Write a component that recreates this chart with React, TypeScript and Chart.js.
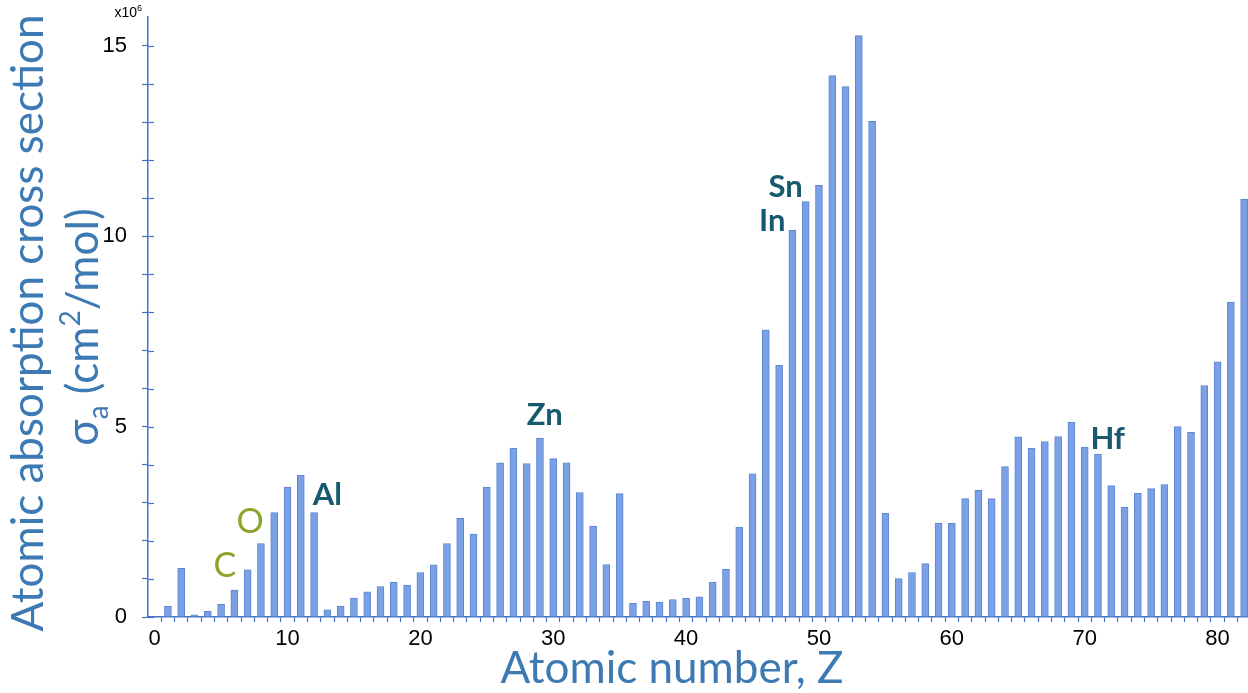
import React, { useEffect, useRef } from 'react';
import { Chart, registerables } from 'chart.js';

Chart.register(...registerables);

// ---- data ----
const atomicNumbers = [
  1, 2, 3, 4, 5, 6, 7, 8, 9, 10, 11, 12, 13, 14, 15, 16, 17, 18, 19, 20,
  21, 22, 23, 24, 25, 26, 27, 28, 29, 30, 31, 32, 33, 34, 35, 36, 37, 38, 39, 40,
  41, 42, 43, 44, 45, 46, 47, 48, 49, 50, 51, 52, 53, 54, 55, 56, 57, 58, 59, 60,
  61, 62, 63, 64, 65, 66, 67, 68, 69, 70, 71, 72, 73, 74, 75, 76, 77, 78, 79, 80,
  81, 82,
];

// atomic absorption cross section, units of 10^6 cm^2/mol
const crossSection = [
  0.29, 1.28, 0.06, 0.15, 0.34, 0.71, 1.24, 1.93, 2.74, 3.41,
  3.72, 2.74, 0.19, 0.29, 0.5, 0.66, 0.8, 0.91, 0.84, 1.17,
  1.37, 1.93, 2.59, 2.18, 3.41, 4.05, 4.44, 4.03, 4.7, 4.16,
  4.05, 3.27, 2.39, 1.38, 3.24, 0.36, 0.41, 0.39, 0.46, 0.49,
  0.53, 0.92, 1.25, 2.36, 3.76, 7.54, 6.61, 10.16, 10.91, 11.34,
  14.22, 13.93, 15.27, 13.02, 2.72, 1.01, 1.17, 1.4, 2.46, 2.46,
  3.11, 3.33, 3.11, 3.95, 4.73, 4.44, 4.61, 4.74, 5.12, 4.46,
  4.28, 3.45, 2.89, 3.25, 3.37, 3.48, 5.0, 4.85, 6.08, 6.7,
  8.27, 10.97,
];

const xTickLabels = [0, 10, 20, 30, 40, 50, 60, 70, 80];
const yTickLabels = [0, 5, 10, 15];
const yMinorTicks = [0, 1, 2, 3, 4, 5, 6, 7, 8, 9, 10, 11, 12, 13, 14, 15];

const elementNames = ['C', 'O', 'Al', 'Zn', 'In', 'Sn', 'Hf'];

// ---- styles / placement ----
const AXIS = '#4472C4';
const TITLE = '#3D7AB3';
const GREEN = '#8CA42C';
const TEAL = '#17596F';

const annotationPlacement: Record<string, { x: number; y: number; color: string; weight: string; size: number }> = {
  C: { x: 5.28, y: 1.05, color: GREEN, weight: '400', size: 34 },
  O: { x: 7.19, y: 2.21, color: GREEN, weight: '400', size: 34 },
  Al: { x: 12.99, y: 2.94, color: TEAL, weight: '700', size: 31 },
  Zn: { x: 29.36, y: 5.04, color: TEAL, weight: '700', size: 31 },
  In: { x: 46.48, y: 10.14, color: TEAL, weight: '700', size: 31 },
  Sn: { x: 47.49, y: 11.03, color: TEAL, weight: '700', size: 31 },
  Hf: { x: 71.73, y: 4.41, color: TEAL, weight: '700', size: 31 },
};

const decorPlugin = {
  id: 'decor',
  afterDraw(chart: any) {
    const ctx = chart.ctx as CanvasRenderingContext2D;
    const xs = chart.scales.x;
    const ys = chart.scales.y;
    const axisX = chart.chartArea.left;

    ctx.save();
    // inner halves of the y tick marks (ticks cross the axis)
    ctx.strokeStyle = AXIS;
    ctx.lineWidth = 1.2;
    yMinorTicks.forEach((v) => {
      const py = Math.round(ys.getPixelForValue(v)) + 0.5;
      ctx.beginPath();
      ctx.moveTo(axisX, py);
      ctx.lineTo(axisX + 6, py);
      ctx.stroke();
    });

    // x10^6 multiplier
    ctx.fillStyle = '#000';
    ctx.textBaseline = 'alphabetic';
    ctx.textAlign = 'right';
    ctx.font = '14px "Liberation Sans"';
    ctx.fillText('x10', 137, 17);
    ctx.textAlign = 'left';
    ctx.font = '9px "Liberation Sans"';
    ctx.fillText('6', 137, 11);

    // x axis title
    ctx.fillStyle = TITLE;
    ctx.textAlign = 'center';
    ctx.font = '44px Lato';
    ctx.fillText('Atomic number, Z', 672, 683);

    // y axis title (rotated, two lines)
    ctx.save();
    ctx.translate(43, 323);
    ctx.rotate(-Math.PI / 2);
    ctx.textAlign = 'center';
    ctx.font = '44px Lato';
    ctx.fillText('Atomic absorption cross section', 0, 0);
    ctx.restore();

    ctx.save();
    ctx.translate(98, 327);
    ctx.rotate(-Math.PI / 2);
    ctx.textAlign = 'left';
    const big = '44px Lato';
    const small = '28px Lato';
    const parts: { t: string; f: string; dy: number }[] = [
      { t: 'σ', f: big, dy: 0 },
      { t: 'a', f: small, dy: 10 },
      { t: ' (cm', f: big, dy: 0 },
      { t: '2', f: small, dy: -18 },
      { t: '/mol)', f: big, dy: 0 },
    ];
    let total = 0;
    parts.forEach((p) => {
      ctx.font = p.f;
      total += ctx.measureText(p.t).width;
    });
    let cx = -total / 2;
    parts.forEach((p) => {
      ctx.font = p.f;
      ctx.fillText(p.t, cx, p.dy);
      cx += ctx.measureText(p.t).width;
    });
    ctx.restore();

    // element annotations
    ctx.textAlign = 'center';
    elementNames.forEach((name) => {
      const a = annotationPlacement[name];
      ctx.fillStyle = a.color;
      ctx.font = `${a.weight} ${a.size}px Lato`;
      ctx.fillText(name, xs.getPixelForValue(a.x), ys.getPixelForValue(a.y));
    });
    ctx.restore();
  },
};

export default function App() {
  const canvasRef = useRef<HTMLCanvasElement | null>(null);

  useEffect(() => {
    let chart: Chart | null = null;
    let cancelled = false;
    const make = () => {
      if (cancelled || !canvasRef.current) return;
      chart = new Chart(canvasRef.current, {
        type: 'bar',
        data: {
          datasets: [
            {
              data: atomicNumbers.map((z, i) => ({ x: z, y: crossSection[i] })),
              backgroundColor: '#7BA0E5',
              borderColor: '#5C86D0',
              borderWidth: 1,
              barThickness: 7,
            },
          ],
        },
        options: {
          animation: false,
          responsive: false,
          devicePixelRatio: 1,
          layout: { padding: { left: 0, right: 0, top: 17, bottom: 0 } },
          plugins: { legend: { display: false }, tooltip: { enabled: false } },
          scales: {
            x: {
              type: 'linear',
              offset: false,
              min: -0.5,
              max: 82.29,
              afterBuildTicks: (s: any) => {
                const t: { value: number }[] = xTickLabels.map((v) => ({ value: v }));
                for (let k = 0; k < 82; k++) t.push({ value: k + 0.5 });
                t.sort((a, b) => a.value - b.value);
                s.ticks = t;
              },
              afterFit: (s: any) => {
                s.height = 76;
                s.paddingLeft = 0;
                s.paddingRight = 0;
                s.paddingTop = 0;
                s.paddingBottom = 0;
              },
              grid: {
                display: true,
                offset: false,
                drawOnChartArea: false,
                drawTicks: true,
                tickLength: 5,
                tickColor: (c: any) =>
                  c.tick && Number.isInteger(c.tick.value) ? 'rgba(0,0,0,0)' : AXIS,
                tickWidth: 1.2,
              },
              border: { display: true, color: AXIS, width: 1.5 },
              ticks: {
                autoSkip: false,
                maxRotation: 0,
                padding: 4,
                color: '#000',
                font: { family: 'Liberation Sans', size: 22 },
                callback: (v: any) => (xTickLabels.includes(v) ? String(v) : ''),
              },
            },
            y: {
              min: 0,
              max: 15.76,
              afterBuildTicks: (s: any) => {
                s.ticks = yMinorTicks.map((v) => ({ value: v }));
              },
              afterFit: (s: any) => {
                s.width = 148;
                s.paddingLeft = 0;
                s.paddingRight = 0;
                s.paddingTop = 0;
                s.paddingBottom = 0;
              },
              grid: {
                display: true,
                drawOnChartArea: false,
                drawTicks: true,
                tickLength: 6,
                tickColor: AXIS,
                tickWidth: 1.2,
              },
              border: { display: true, color: AXIS, width: 1.5 },
              ticks: {
                autoSkip: false,
                padding: 15,
                color: '#000',
                font: { family: 'Liberation Sans', size: 22 },
                callback: (v: any) => (yTickLabels.includes(v) ? String(v) : ''),
              },
            },
          },
        },
        plugins: [decorPlugin],
      } as any);
    };
    const fontsApi: any = (document as any).fonts;
    if (fontsApi && fontsApi.load) {
      Promise.all([
        fontsApi.load('44px Lato'),
        fontsApi.load('700 31px Lato'),
        fontsApi.load('22px "Liberation Sans"'),
      ])
        .catch(() => null)
        .then(make);
    } else {
      make();
    }
    return () => {
      cancelled = true;
      if (chart) chart.destroy();
    };
  }, []);

  return (
    <div style={{ position: 'absolute', left: 0, top: 0, width: 1248, height: 693, background: '#fff', overflow: 'hidden' }}>
      <canvas ref={canvasRef} width={1248} height={693} />
    </div>
  );
}
